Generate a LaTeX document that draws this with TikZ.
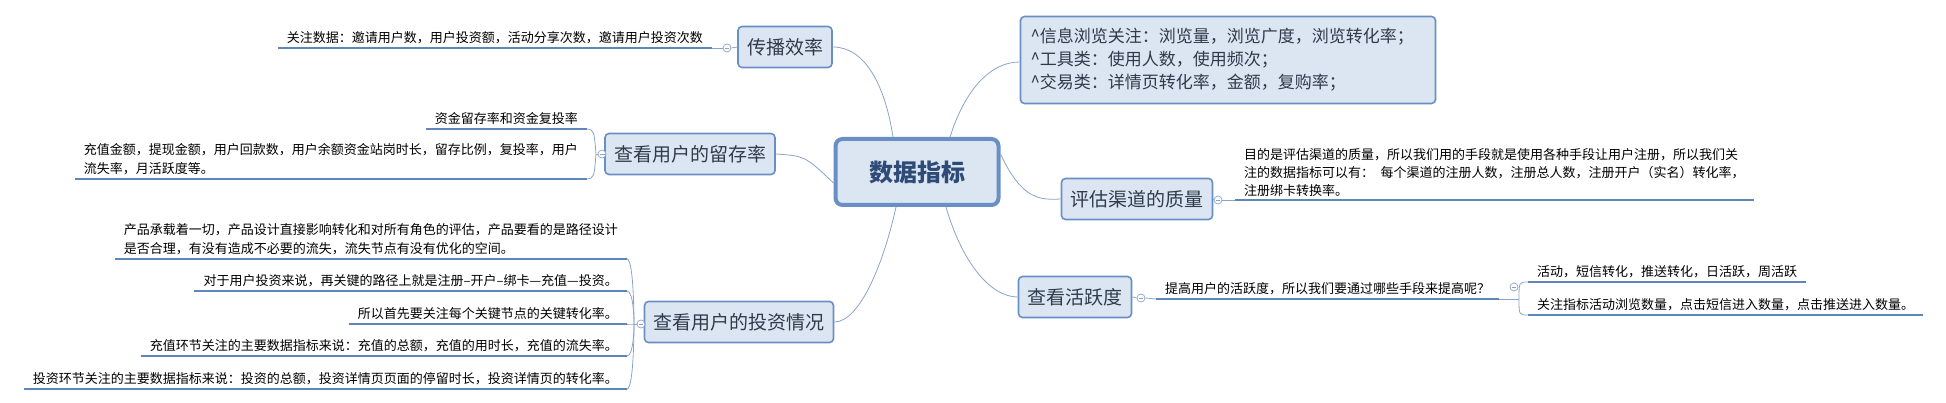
\documentclass[tikz,border=0pt]{standalone}
\usepackage{fontspec}
\setmainfont{Noto Sans CJK SC}
\definecolor{boxfill}{HTML}{DCE6F2}
\definecolor{boxline}{HTML}{6A8FC4}
\definecolor{conn}{HTML}{8AA4C8}
\definecolor{uline}{HTML}{5F86B8}
\definecolor{boxtext}{HTML}{2F3B4C}
\definecolor{centertext}{HTML}{2E4A76}
\tikzset{
  topic/.style={draw=boxline,line width=1.6pt,fill=boxfill,rounded corners=4pt,inner xsep=9pt,inner ysep=0pt,minimum height=41pt,font=\fontsize{19}{23}\selectfont,text=boxtext},
  leaf/.style={inner xsep=9pt,inner ysep=4pt,font=\fontsize{13}{19}\selectfont,align=left},
  ul/.style={draw=uline,line width=2.6pt},
  cn/.style={draw=conn,line width=0.8pt},
  fold/.style={circle,draw=conn,fill=white,line width=0.7pt,inner sep=0pt,minimum size=8pt},
}
\newcommand{\foldmark}[1]{\draw[conn,line width=0.6pt] ([xshift=-2pt]#1.center)--([xshift=2pt]#1.center);}
\begin{document}
\begin{tikzpicture}[x=1pt,y=-1pt]
\useasboundingbox (0,0) rectangle (1946,403);
% central
\node[draw=boxline,line width=4pt,fill=boxfill,rounded corners=7pt,minimum width=163pt,minimum height=66pt,font=\fontsize{24}{28}\selectfont\bfseries,text=centertext] (c) at (917,172) {数据指标};
% topics
\node[topic] (cb) at (785,47) {传播效率};
\node[topic] (lc) at (690,154) {查看用户的留存率};
\node[topic] (tz) at (739,322) {查看用户的投资情况};
\node[topic,font=\fontsize{17}{23}\selectfont,align=left,minimum width=415pt,minimum height=87pt,text width=395pt] (bb) at (1228,60) {\^{}信息浏览关注：浏览量，浏览广度，浏览转化率；\\\^{}工具类：使用人数，使用频次；\\\^{}交易类：详情页转化率，金额，复购率；};
\node[topic] (pg) at (1137,199) {评估渠道的质量};
\node[topic] (hy) at (1075,297) {查看活跃度};
% center connectors
\draw[cn] ([xshift=-24pt]c.north) .. controls (885,85) and (865,47) .. (cb.east);
\draw[cn] ([xshift=33pt]c.north) .. controls (965,90) and (990,62) .. (bb.west|-0,62);
\draw[cn] ([yshift=-11pt]c.west) .. controls (805,156) .. (lc.east);
\draw[cn] ([yshift=18pt]c.east) .. controls (1022,200) and (1040,200) .. (pg.west);
\draw[cn] ([xshift=29pt]c.south) .. controls (962,262) and (990,297) .. (hy.west);
\draw[cn] ([xshift=-21pt]c.south) .. controls (884,262) and (860,322) .. (tz.east);
% 传播效率
\node[leaf,anchor=south east] (cb1) at (712,48) {关注数据：邀请用户数，用户投资额，活动分享次数，邀请用户投资次数};
\draw[ul] (cb1.south west)--(cb1.south east);
\node[fold] (f1) at (727,48) {};
\draw[cn] (cb.west)--(f1.east); \draw[cn] (f1.west)--(cb1.south east);
\foldmark{f1}
% 留存率
\node[leaf,anchor=south east] (lc1) at (587,129) {资金留存率和资金复投率};
\node[leaf,anchor=south east] (lc2) at (587,179) {充值金额，提现金额，用户回款数，用户余额资金站岗时长，留存比例，复投率，用户\\流失率，月活跃度等。};
\draw[ul] (lc1.south west)--(lc1.south east);
\draw[ul] (lc2.south west)--(lc2.south east);
\node[fold] (f2) at (602,154) {};
\draw[cn] (lc.west)--(f2.east);
\draw[cn] (f2.west) -- (596,154);
\draw[cn] (596,154) .. controls (594,130) .. (lc1.south east);
\draw[cn] (596,154) .. controls (594,178) .. (lc2.south east);
\foldmark{f2}
% 投资情况
\node[leaf,anchor=south east] (t1) at (627,259) {产品承载着一切，产品设计直接影响转化和对所有角色的评估，产品要看的是路径设计\\是否合理，有没有造成不必要的流失，流失节点有没有优化的空间。};
\node[leaf,anchor=south east] (t2) at (627,291) {对于用户投资来说，再关键的路径上就是注册–开户–绑卡—充值—投资。};
\node[leaf,anchor=south east] (t3) at (627,324) {所以首先要关注每个关键节点的关键转化率。};
\node[leaf,anchor=south east] (t4) at (627,356) {充值环节关注的主要数据指标来说：充值的总额，充值的用时长，充值的流失率。};
\node[leaf,anchor=south east] (t5) at (627,389) {投资环节关注的主要数据指标来说：投资的总额，投资详情页页面的停留时长，投资详情页的转化率。};
\foreach \n in {t1,t2,t3,t4,t5}{\draw[ul] (\n.south west)--(\n.south east);}
\node[fold] (f3) at (641,324) {};
\draw[cn] (tz.west)--(f3.east);
\draw[cn] (f3.west)--(634,324);
\foreach \n in {t1,t2,t3,t4,t5}{\draw[cn] (634,324) .. controls (634,324) and (634,0 |- \n.south east) .. (\n.south east);}
\foldmark{f3}
% 评估
\node[leaf,anchor=south west,inner ysep=3pt,font=\fontsize{13}{18}\selectfont] (pg1) at (1235,200) {目的是评估渠道的质量，所以我们用的手段就是使用各种手段让用户注册，所以我们关\\注的数据指标可以有：\enspace 每个渠道的注册人数，注册总人数，注册开户（实名）转化率，\\注册绑卡转换率。};
\draw[ul] (pg1.south west)--(pg1.south east);
\node[fold] (f4) at (1218,200) {};
\draw[cn] (pg.east)--(f4.west); \draw[cn] (f4.east)--(pg1.south west);
\foldmark{f4}
% 活跃度
\node[leaf,anchor=south west] (h1) at (1156,299) {提高用户的活跃度，所以我们要通过哪些手段来提高呢？};
\draw[ul] (h1.south west)--(h1.south east);
\node[fold] (f5) at (1141,298) {};
\draw[cn] (hy.east)--(f5.west); \draw[cn] (f5.east)--(h1.south west);
\foldmark{f5}
\node[leaf,anchor=south west] (h2) at (1528,282) {活动，短信转化，推送转化，日活跃，周活跃};
\node[leaf,anchor=south west] (h3) at (1528,315) {关注指标活动浏览数量，点击短信进入数量，点击推送进入数量。};
\draw[ul] (h2.south west)--(h2.south east);
\draw[ul] (h3.south west)--(h3.south east);
\node[fold] (f6) at (1514,287) {};
\foldmark{f6}
\draw[cn] (h1.south east)--(1519,299);
\draw[cn] (1519,299) .. controls (1519,282) .. (h2.south west);
\draw[cn] (1519,299) .. controls (1519,315) .. (h3.south west);
\end{tikzpicture}
\end{document}
